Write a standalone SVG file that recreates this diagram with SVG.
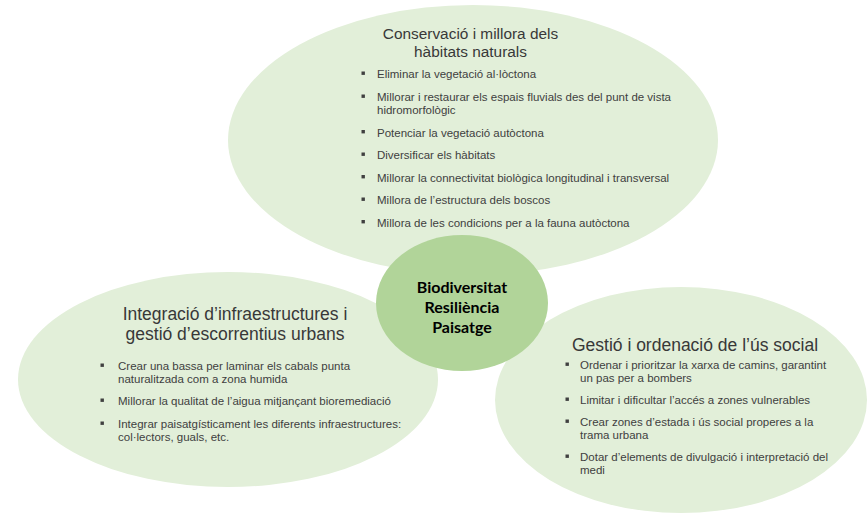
<svg xmlns="http://www.w3.org/2000/svg" width="867" height="513" viewBox="0 0 867 513">
<style>
.blob{fill:#e2efd9}
.core{fill:#b1d499}
.title{font-family:"Liberation Sans",Arial,sans-serif;fill:#383838;text-anchor:middle}
.item{font-family:"Liberation Sans",Arial,sans-serif;font-size:11.5px;fill:#404040}
.core-t{font-family:Lato,"Open Sans",sans-serif;font-weight:bold;font-size:16px;fill:#000;text-anchor:middle}
.b{fill:#404040}
</style>
<defs>
<rect id="bul" width="3.4" height="3.4" class="b"/>
</defs>
<rect width="867" height="513" fill="#ffffff"/>
<g id="connectors"></g>
<g id="node-top">
<ellipse class="blob" cx="473" cy="140" rx="245" ry="135"/>
<text class="title" font-size="15.4" x="470.5" y="39">Conservació i millora dels</text>
<text class="title" font-size="15.4" x="470.5" y="57">hàbitats naturals</text>
<use href="#bul" x="361.5" y="71.5"/><text class="item" x="377" y="78">Eliminar la vegetació al·lòctona</text>
<use href="#bul" x="361.5" y="94.5"/><text class="item" x="377" y="101">Millorar i restaurar els espais fluvials des del punt de vista</text>
<text class="item" x="377" y="113.5">hidromorfològic</text>
<use href="#bul" x="361.5" y="130"/><text class="item" x="377" y="136.5">Potenciar la vegetació autòctona</text>
<use href="#bul" x="361.5" y="152.5"/><text class="item" x="377" y="159">Diversificar els hàbitats</text>
<use href="#bul" x="361.5" y="175"/><text class="item" x="377" y="181.5">Millorar la connectivitat biològica longitudinal i transversal</text>
<use href="#bul" x="361.5" y="197.5"/><text class="item" x="377" y="204">Millora de l’estructura dels boscos</text>
<use href="#bul" x="361.5" y="220"/><text class="item" x="377" y="226.5">Millora de les condicions per a la fauna autòctona</text>
</g>
<g id="node-left">
<ellipse class="blob" cx="228" cy="379.5" rx="210" ry="107.5"/>
<text class="title" font-size="17.5" x="235" y="320">Integració d’infraestructures i</text>
<text class="title" font-size="17.5" x="235" y="340">gestió d’escorrentius urbans</text>
<use href="#bul" x="100.5" y="363.5"/><text class="item" x="118" y="370">Crear una bassa per laminar els cabals punta</text>
<text class="item" x="118" y="383">naturalitzada com a zona humida</text>
<use href="#bul" x="100.5" y="398.5"/><text class="item" x="118" y="405">Millorar la qualitat de l’aigua mitjançant bioremediació</text>
<use href="#bul" x="100.5" y="421.5"/><text class="item" x="118" y="428">Integrar paisatgísticament les diferents infraestructures:</text>
<text class="item" x="118" y="440.5">col·lectors, guals, etc.</text>
</g>
<g id="node-right">
<ellipse class="blob" cx="681" cy="400" rx="186" ry="113"/>
<text class="title" font-size="17.5" x="695" y="351">Gestió i ordenació de l’ús social</text>
<use href="#bul" x="565.5" y="362.5"/><text class="item" x="580" y="369">Ordenar i prioritzar la xarxa de camins, garantint</text>
<text class="item" x="580" y="381.5">un pas per a bombers</text>
<use href="#bul" x="565.5" y="397.5"/><text class="item" x="580" y="404">Limitar i dificultar l’accés a zones vulnerables</text>
<use href="#bul" x="565.5" y="419.5"/><text class="item" x="580" y="426">Crear zones d’estada i ús social properes a la</text>
<text class="item" x="580" y="439">trama urbana</text>
<use href="#bul" x="565.5" y="454.5"/><text class="item" x="580" y="461">Dotar d’elements de divulgació i interpretació del</text>
<text class="item" x="580" y="474">medi</text>
</g>
<g id="node-center">
<ellipse class="core" cx="462" cy="303" rx="86" ry="68"/>
<text class="core-t" x="462" y="293">Biodiversitat</text>
<text class="core-t" x="462" y="313">Resiliència</text>
<text class="core-t" x="462" y="333">Paisatge</text>
</g>
</svg>
